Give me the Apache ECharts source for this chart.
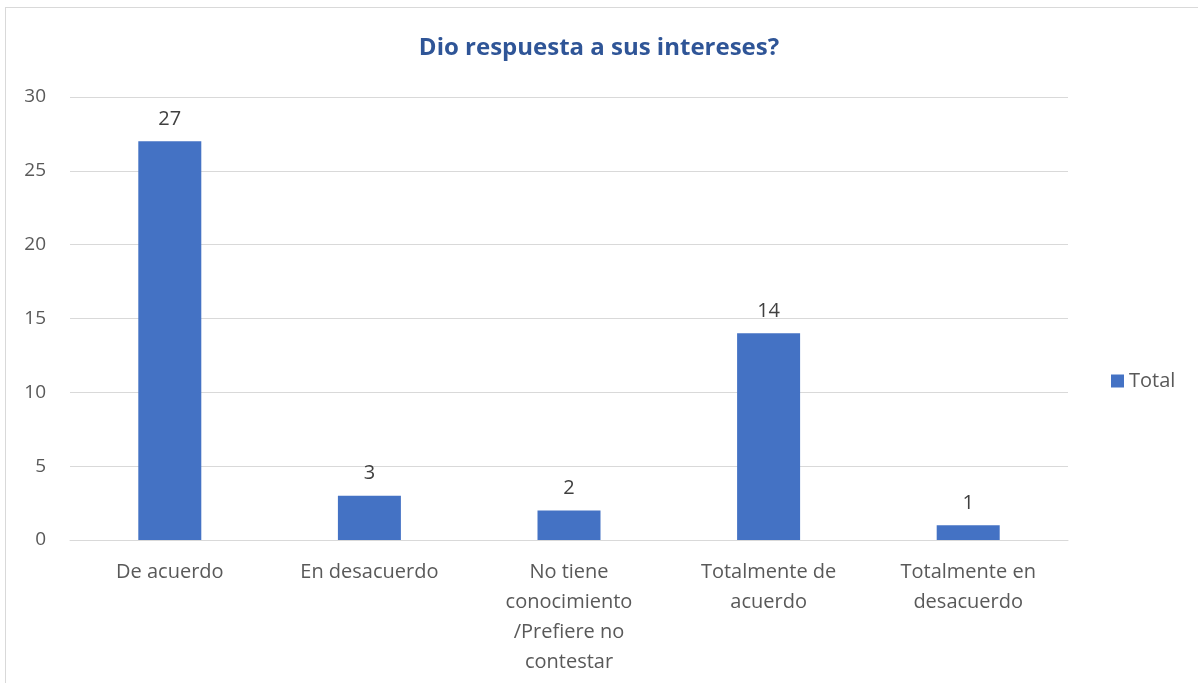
<!DOCTYPE html>
<html>
<head>
<meta charset="utf-8">
<script src="https://cdn.jsdelivr.net/npm/echarts@6/dist/echarts.min.js"></script>
<style>
  html, body { margin: 0; padding: 0; background: #fff; }
  #main { width: 1198px; height: 683px; }
  #frame { position: absolute; left: 5px; top: 7px; width: 1300px; height: 800px; border: 1px solid #d9d9d9; pointer-events: none; }
</style>
</head>
<body>
<div id="main"></div>
<div id="frame"></div>
<script>
const categories = ['De acuerdo', 'En desacuerdo', 'No tiene\nconocimiento\n/Prefiere no\ncontestar', 'Totalmente de\nacuerdo', 'Totalmente en\ndesacuerdo']
const totals = [27, 3, 2, 14, 1]
const yTicks = [0, 5, 10, 15, 20, 25, 30]

const chartDom = document.getElementById('main')
const myChart = echarts.init(chartDom)
const font = 'Open Sans, Noto Sans, sans-serif'
let option = {
  animation: false,
  textStyle: { fontFamily: font },
  title: {
    text: 'Dio respuesta a sus intereses?',
    left: 'center',
    top: 31,
    textStyle: { color: '#2F5597', fontSize: 24, fontWeight: 'bold', fontFamily: font },
  },
  legend: {
    data: ['Total'],
    left: 1106,
    top: 366,
    itemWidth: 13,
    itemHeight: 13,
    icon: 'rect',
    itemGap: 4,
    textStyle: { color: '#595959', fontSize: 20, fontFamily: font, padding: [0, 0, 0, 0] },
  },
  grid: { left: 70, right: 130, top: 97, bottom: 143 },
  xAxis: {
    type: 'category',
    data: categories,
    axisLine: { lineStyle: { color: '#d9d9d9' } },
    axisTick: { show: false },
    axisLabel: { color: '#595959', fontSize: 20, lineHeight: 30, margin: 17, interval: 0 },
  },
  yAxis: {
    type: 'value',
    min: yTicks[0],
    max: yTicks[yTicks.length - 1],
    interval: 5,
    axisLine: { show: false },
    axisTick: { show: false },
    axisLabel: { color: '#595959', fontSize: 19, margin: 24 },
    splitLine: { lineStyle: { color: '#d9d9d9', width: 1 } },
  },
  series: [
    {
      name: 'Total',
      type: 'bar',
      data: totals,
      barWidth: 63,
      itemStyle: { color: '#4472C4' },
      label: { show: true, position: 'top', distance: 12, color: '#404040', fontSize: 20 },
    },
  ],
}
myChart.setOption(option)
</script>
</body>
</html>
